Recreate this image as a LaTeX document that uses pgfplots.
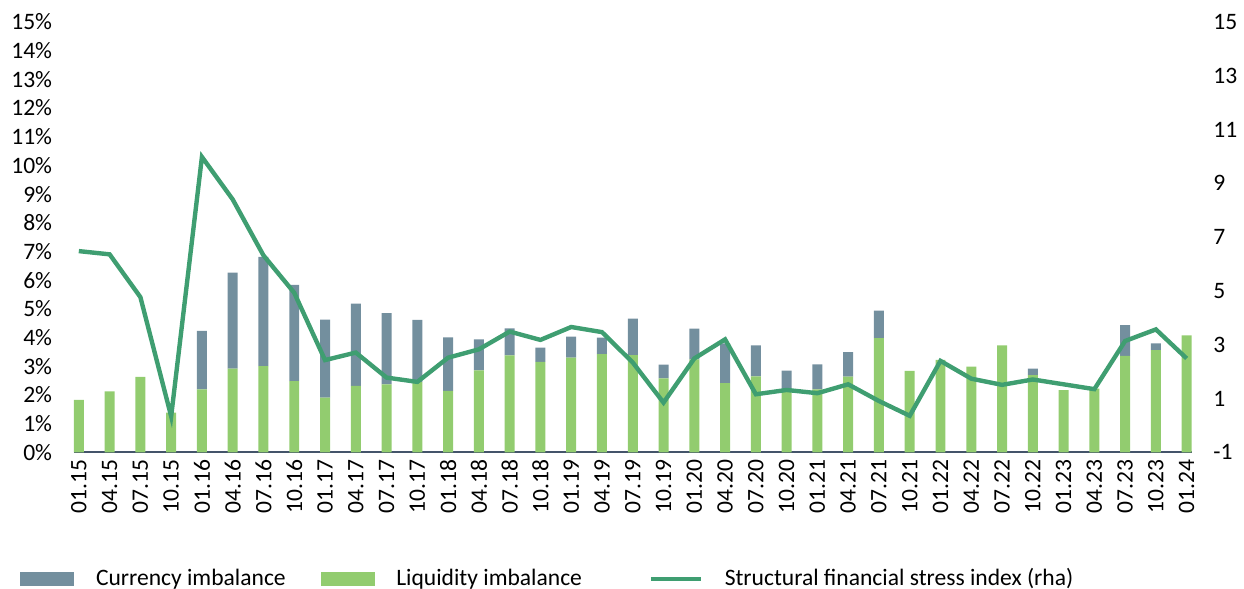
\documentclass[border=0pt]{standalone}
\usepackage{fontspec}
\setmainfont{Carlito}
\usepackage{pgfplots}
\usepackage{pgfplotstable}
\pgfplotsset{compat=1.18}
\definecolor{curr}{HTML}{738F9E}
\definecolor{liq}{HTML}{92CC6F}
\definecolor{sfsi}{HTML}{3F9E71}
\definecolor{axl}{HTML}{44546A}
\pgfplotstableread{
x liq cur sfsi
0 1.83 0 6.48
1 2.13 0 6.36
2 2.63 0 4.77
3 1.39 0 0.34
4 2.20 2.03 9.98
5 2.92 3.34 8.40
6 3.01 3.80 6.32
7 2.48 3.36 4.93
8 1.91 2.72 2.43
9 2.32 2.86 2.71
10 2.37 2.48 1.78
11 2.45 2.17 1.62
12 2.14 1.87 2.52
13 2.86 1.08 2.83
14 3.38 0.94 3.49
15 3.15 0.50 3.18
16 3.30 0.73 3.66
17 3.42 0.58 3.47
18 3.39 1.27 2.34
19 2.58 0.48 0.85
20 3.24 1.07 2.49
21 2.41 1.39 3.20
22 2.65 1.08 1.16
23 2.10 0.75 1.32
24 2.20 0.87 1.20
25 2.64 0.85 1.53
26 3.98 0.96 0.91
27 2.84 0 0.36
28 3.22 0 2.40
29 2.99 0 1.74
30 3.73 0 1.51
31 2.69 0.23 1.71
32 2.17 0 1.53
33 2.22 0 1.35
34 3.36 1.07 3.14
35 3.56 0.24 3.57
36 4.08 0 2.49
}\data
\newcommand{\tfont}{\fontsize{11.8}{14}\selectfont}
\begin{document}
\begin{tikzpicture}
\pgfplotsset{
  common/.style={
    width=560pt, height=215.7pt, scale only axis,
    at={(37pt,67.85pt)}, anchor=south west,
    xmin=-0.162, xmax=36.162,
    major tick length=0pt,
    tick label style={font=\tfont},
  }
}
\begin{axis}[common,
  ybar stacked, bar width=5pt,
  ymin=0, ymax=15,
  ytick={0,...,15},
  yticklabels={0\%,1\%,2\%,3\%,4\%,5\%,6\%,7\%,8\%,9\%,10\%,11\%,12\%,13\%,14\%,15\%},
  yticklabel style={anchor=east, xshift=-7.4pt},
  xtick={0,...,36},
  xticklabels={01.15,04.15,07.15,10.15,01.16,04.16,07.16,10.16,01.17,04.17,07.17,10.17,01.18,04.18,07.18,10.18,01.19,04.19,07.19,10.19,01.20,04.20,07.20,10.20,01.21,04.21,07.21,10.21,01.22,04.22,07.22,10.22,01.23,04.23,07.23,10.23,01.24},
  xticklabel style={rotate=90, anchor=east},
  axis x line=bottom, axis y line=left,
  x axis line style={draw=axl, line width=1pt, -},
  y axis line style={draw=none},
  legend columns=3,
  legend cell align=left,
  legend style={at={(-0.0482,-0.2937)}, anchor=west, draw=none, fill=none, inner sep=0pt,
    font=\tfont,
    nodes={inner sep=0pt},
    /tikz/every odd column/.append style={column sep=11pt},
    /tikz/column 2/.append style={column sep=17.5pt},
    /tikz/column 4/.append style={column sep=33.5pt}},
]
\addplot[fill=liq, draw=none, forget plot] table[x=x, y=liq]{\data};
\addplot[fill=curr, draw=none, forget plot] table[x=x, y=cur]{\data};
\addlegendimage{legend image code/.code={\fill[curr] (0pt,-3.25pt) rectangle (26.5pt,3.25pt);}}
\addlegendentry{Currency imbalance}
\addlegendimage{legend image code/.code={\fill[liq] (0pt,-3.25pt) rectangle (26.5pt,3.25pt);}}
\addlegendentry{Liquidity imbalance}
\addlegendimage{legend image code/.code={\draw[sfsi, line width=2pt] (0pt,0pt) -- (25pt,0pt);}}
\addlegendentry{Structural financial stress index (rha)}
\end{axis}
\begin{axis}[common,
  ymin=-1, ymax=15,
  ytick={-1,1,...,15},
  yticklabels={-1,1,3,5,7,9,11,13,15},
  yticklabel style={anchor=west, xshift=7.4pt},
  axis y line*=right, axis x line=none,
  y axis line style={draw=none},
  xtick=\empty,
]
\addplot[sfsi, line width=2.2pt, mark=none] table[x=x, y=sfsi]{\data};
\end{axis}
\path[use as bounding box] (0,0) rectangle (622pt,294.5pt);
\end{tikzpicture}
\end{document}
